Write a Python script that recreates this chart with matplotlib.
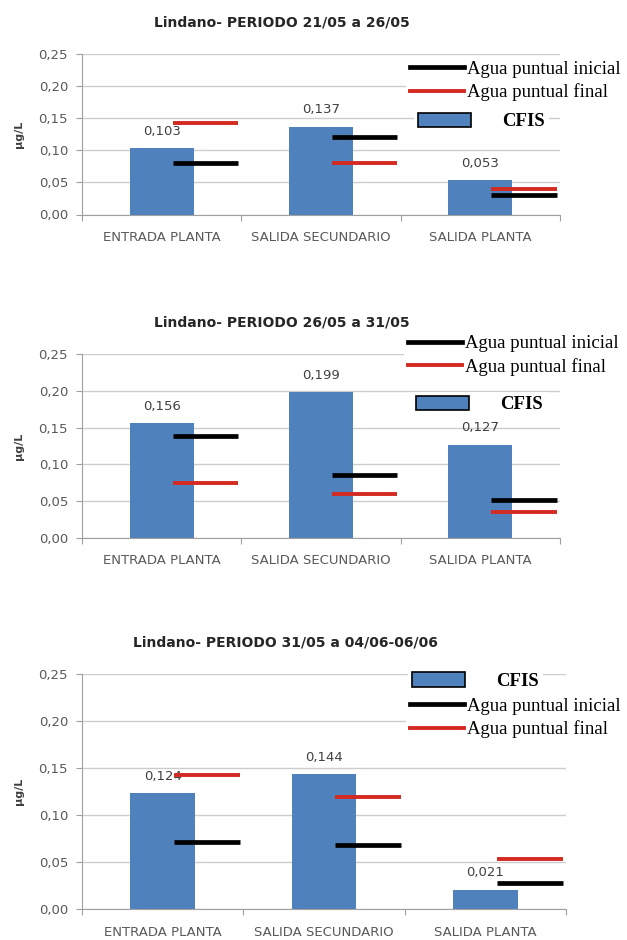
import matplotlib.pyplot as plt
from matplotlib.lines import Line2D
from matplotlib.patches import Patch
from matplotlib.font_manager import FontProperties

categories = ['ENTRADA PLANTA', 'SALIDA SECUNDARIO', 'SALIDA PLANTA']
titles = ['Lindano- PERIODO 21/05 a 26/05',
          'Lindano- PERIODO 26/05 a 31/05',
          'Lindano- PERIODO 31/05 a 04/06-06/06']

# periodo 21/05 a 26/05
cfis_1 = [0.103, 0.137, 0.053]
inicial_1 = [0.080, 0.120, 0.031]
final_1 = [0.143, 0.080, 0.040]

# periodo 26/05 a 31/05
cfis_2 = [0.156, 0.199, 0.127]
inicial_2 = [0.139, 0.085, 0.052]
final_2 = [0.075, 0.059, 0.035]

# periodo 31/05 a 04/06-06/06
cfis_3 = [0.124, 0.144, 0.021]
inicial_3 = [0.072, 0.068, 0.028]
final_3 = [0.143, 0.120, 0.053]

yticks = [0.0, 0.05, 0.10, 0.15, 0.20, 0.25]

BLUE = '#4F81BD'
BLACK = '#000000'
RED = '#D42A22'
GRAY_TXT = '#595959'
W, H = 627, 940

fig = plt.figure(figsize=(6.27, 9.4), dpi=100)
serif = FontProperties(family='Liberation Serif', size=13.5)
serif_b = FontProperties(family='Liberation Serif', size=13.5, weight='bold')


def fx(px):
    return px / W


def fy(py):
    return 1 - py / H


def comma(v, nd):
    return f'{v:.{nd}f}'.replace('.', ',')


def draw_panel(rect, cfis, inicial, final, title, title_xy, line_leg, cfis_leg):
    ax = fig.add_axes(rect)
    x = range(len(categories))
    ax.bar(x, cfis, width=0.4, color=BLUE, zorder=2)
    for i, v in enumerate(cfis):
        ax.annotate(comma(v, 3), (i, v), xytext=(0, 12), textcoords='offset points',
                    ha='center', va='center', fontsize=9.5, color='#404040', zorder=3)
    for i in x:
        ax.hlines(inicial[i], i + 0.07, i + 0.48, color=BLACK, lw=3.4, zorder=4)
        ax.hlines(final[i], i + 0.07, i + 0.48, color=RED, lw=2.8, zorder=4)

    ax.set_xlim(-0.5, 2.5)
    ax.set_ylim(0, 0.25)
    ax.set_yticks(yticks)
    ax.set_yticklabels([comma(t, 2) for t in yticks])
    ax.set_xticks([-0.5, 0.5, 1.5, 2.5])
    ax.set_xticklabels([])
    ax.set_xticks(list(x), minor=True)
    ax.set_xticklabels(categories, minor=True)
    ax.tick_params(axis='x', which='major', length=4, color='#A0A0A0')
    ax.tick_params(axis='x', which='minor', length=0, pad=12, labelsize=9.5, labelcolor=GRAY_TXT)
    ax.tick_params(axis='y', length=4, pad=6, color='#A0A0A0', labelsize=9.5, labelcolor=GRAY_TXT)
    ax.grid(axis='y', color='#CCCCCC', lw=1, zorder=0)
    ax.set_axisbelow(True)
    for s in ['top', 'right']:
        ax.spines[s].set_visible(False)
    for s in ['left', 'bottom']:
        ax.spines[s].set_color('#A0A0A0')

    ax.set_ylabel('µg/L', fontsize=8, fontweight='bold', color='#404040')
    ax.yaxis.set_label_coords(-58 / (rect[2] * W), 0.5)

    fig.text(fx(title_xy[0]), fy(title_xy[1]), title, ha='center', va='center',
             fontsize=10, fontweight='bold', color='#262626')

    fs = 13.5 * 100 / 72
    leg1 = ax.legend([Line2D([], [], color=BLACK, lw=3.4), Line2D([], [], color=RED, lw=2.8)],
                     ['Agua puntual inicial', 'Agua puntual final'],
                     loc='center left', bbox_to_anchor=(fx(line_leg[0] - 0.2 * fs), fy(line_leg[1])),
                     bbox_transform=fig.transFigure, prop=serif, handlelength=2.9,
                     handletextpad=0.15, labelspacing=0.28, borderpad=0.2, borderaxespad=0,
                     frameon=True, fancybox=False, edgecolor='none', facecolor='white',
                     framealpha=1)
    ax.add_artist(leg1)
    ax.legend([Patch(facecolor=BLUE, edgecolor='black', lw=1.2)], ['CFIS'],
              loc='center left', bbox_to_anchor=(fx(cfis_leg[0] - 0.2 * fs), fy(cfis_leg[1])),
              bbox_transform=fig.transFigure, prop=serif_b, handlelength=2.8,
              handleheight=0.8, handletextpad=1.7, borderpad=0.2, borderaxespad=0,
              frameon=True, fancybox=False, edgecolor='none', facecolor='white',
              framealpha=1)
    return ax


draw_panel([fx(82), fy(214.5), fx(560) - fx(82), (214.5 - 54) / H],
           cfis_1, inicial_1, final_1, titles[0], (282, 23), (410, 81), (418, 121.5))
draw_panel([fx(82), fy(537.7), fx(560) - fx(82), (537.7 - 354.3) / H],
           cfis_2, inicial_2, final_2, titles[1], (282, 322), (408, 355.5), (416, 404.5))
draw_panel([fx(82), fy(909.3), fx(566) - fx(82), (909.3 - 674.3) / H],
           cfis_3, inicial_3, final_3, titles[2], (285, 642), (410, 718), (412, 681))

fig.savefig('out.png', dpi=100, facecolor='white')
